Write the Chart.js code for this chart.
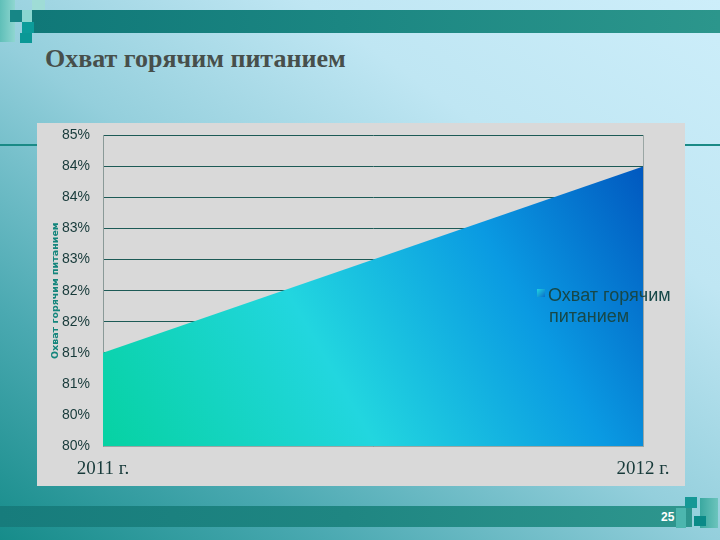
<!DOCTYPE html>
<html>
<head>
<meta charset="utf-8">
<script src="https://cdn.jsdelivr.net/npm/chart.js@4"></script>
<style>
  html, body { margin: 0; padding: 0; }
  body {
    width: 720px; height: 540px; position: relative; overflow: hidden;
    background: linear-gradient(35deg, #168c8a 0%, #4aa9b1 22%, #94cfdc 48%, #bfe6f3 72%, #cdeefa 100%);
  }
  .blk { position: absolute; }
  #titulo {
    position: absolute; left: 45px; top: 44px;
    font: bold 26px "Liberation Serif", "Times New Roman", serif; color: #474f4b;
  }
  #painel { position: absolute; left: 37px; top: 123px; width: 648px; height: 363px; background: #d9d9d9; overflow: hidden; }
  #grafico { position: absolute; left: 0; top: -9px; }
  #pagina { position: absolute; left: 661px; top: 510px; font: bold 12px "Liberation Sans", Arial, sans-serif; color: #fff; }
</style>
</head>
<body>
<!-- декор слайда -->
<div class="blk" style="left:0;top:0;width:15px;height:42px;background:linear-gradient(90deg,#5fbfb8,#8fd6d0)"></div>
<div class="blk" style="left:32px;top:0;width:13px;height:10px;background:#9fdcd6"></div>
<div class="blk" style="left:30px;top:10px;width:690px;height:23px;background:linear-gradient(90deg,#107878,#1b8682 45%,#2c968c)"></div>
<div class="blk" style="left:10px;top:10px;width:12px;height:12px;background:#178686"></div>
<div class="blk" style="left:22px;top:10px;width:10px;height:12px;background:#8ad6d0"></div>
<div class="blk" style="left:22px;top:22px;width:12px;height:11px;background:#0c9c9a"></div>
<div class="blk" style="left:20px;top:33px;width:12px;height:10px;background:#0a9896"></div>
<div class="blk" style="left:0;top:144px;width:37px;height:2px;background:#1a8a86"></div>
<div class="blk" style="left:685px;top:144px;width:35px;height:2px;background:#1a8a86"></div>
<div class="blk" style="left:0;top:506px;width:692px;height:21px;background:linear-gradient(90deg,#177c7c,#1f8682 50%,#2e968e)"></div>
<div class="blk" style="left:700px;top:498px;width:18px;height:30px;background:linear-gradient(90deg,#3aa8a0,#6cc4bc)"></div>
<div class="blk" style="left:685px;top:497px;width:12px;height:11px;background:#169896"></div>
<div class="blk" style="left:694px;top:516px;width:12px;height:10px;background:#0a8a88"></div>
<div class="blk" style="left:676px;top:508px;width:10px;height:20px;background:#4cb6ae"></div>
<div id="titulo">Охват горячим питанием</div>
<div id="painel"><canvas id="grafico" width="648" height="372"></canvas></div>
<div id="pagina">25</div>

<script>
// данные диаграммы
const anos = ['2011 г.', '2012 г.'];
const cobertura = [81.5, 84.5]; // охват горячим питанием, %
const rotulosY = ['80%', '80%', '81%', '81%', '82%', '82%', '83%', '83%', '84%', '84%', '85%'];
const nomeSerie = 'Охват горячим питанием';
const legendaLinhas = ['Охват горячим', 'питанием'];

function gradiente(ctx, area) {
  const g = ctx.createLinearGradient(area.left, area.bottom, area.right, area.top);
  g.addColorStop(0, '#06d2a2');
  g.addColorStop(0.38, '#22d6df');
  g.addColorStop(0.7, '#0a9ae2');
  g.addColorStop(1, '#0052bc');
  return g;
}

// легенда поверх области построения (координаты канвы)
const legendaPlugin = {
  id: 'legendaPlugin',
  afterDraw(c) {
    const ctx = c.ctx;
    ctx.save();
    const g = ctx.createLinearGradient(500, 175, 508, 183);
    g.addColorStop(0, '#20d4e0');
    g.addColorStop(1, '#0a6cc8');
    ctx.fillStyle = g;
    ctx.fillRect(500, 175, 8, 8);
    ctx.fillStyle = '#174848';
    ctx.font = '18px "Liberation Sans", Arial, sans-serif';
    ctx.textBaseline = 'middle';
    ctx.fillText(legendaLinhas[0], 511, 182);
    ctx.fillText(legendaLinhas[1], 512, 203);
    ctx.restore();
  }
};

const ctx = document.getElementById('grafico').getContext('2d');
new Chart(ctx, {
  type: 'line',
  data: {
    labels: anos,
    datasets: [{
      label: nomeSerie,
      data: cobertura,
      fill: 'start',
      tension: 0,
      borderWidth: 0,
      pointRadius: 0,
      backgroundColor: (cx) => {
        const area = cx.chart.chartArea;
        if (!area) return '#22d6df';
        return gradiente(cx.chart.ctx, area);
      }
    }]
  },
  options: {
    responsive: false,
    animation: false,
    layout: { padding: { left: 13, right: 42, top: 4, bottom: 0 } },
    plugins: { legend: { display: false }, tooltip: { enabled: false } },
    scales: {
      x: {
        offset: false,
        afterFit: (ax) => { ax.height = 40; },
        grid: { display: false },
        border: { color: '#9aa6a4' },
        ticks: {
          maxRotation: 0, autoSkip: false, padding: 4, color: '#173a3a',
          font: { family: '"Liberation Serif", "Times New Roman", serif', size: 19 }
        }
      },
      y: {
        min: 80, max: 85,
        afterFit: (ax) => { ax.width = 53; },
        grid: { color: '#1d5a56', lineWidth: 1, drawTicks: false },
        border: { color: '#8a9a98' },
        ticks: {
          stepSize: 0.5, padding: 13, color: '#173a3a',
          font: { family: '"Liberation Sans", Arial, sans-serif', size: 14 },
          callback: (v, i) => rotulosY[i]
        },
        title: {
          display: true, text: nomeSerie, color: '#13857c', padding: 0,
          font: { family: '"DejaVu Sans", Verdana, sans-serif', size: 9.5, weight: 'bold' }
        }
      },
      // правая граница области построения
      yDir: {
        position: 'right',
        min: 80, max: 85,
        afterFit: (ax) => { ax.width = 0; },
        ticks: { display: false },
        grid: { drawOnChartArea: false, drawTicks: false },
        border: { color: '#9aa6a4' }
      }
    }
  },
  plugins: [legendaPlugin]
});
</script>
</body>
</html>
